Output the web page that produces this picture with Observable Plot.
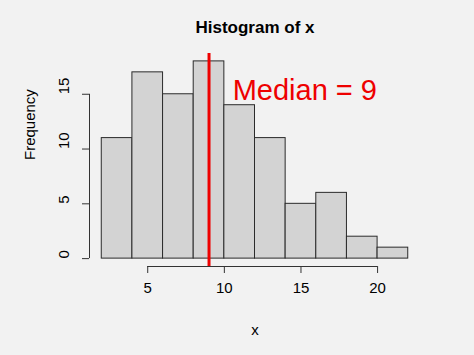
<!DOCTYPE html>
<html>
<head>
<meta charset="utf-8">
<script src="https://cdn.jsdelivr.net/npm/d3@7"></script>
<script src="https://cdn.jsdelivr.net/npm/@observablehq/plot@0.6"></script>
<style>
  html, body { margin: 0; padding: 0; background: #ffffff; }
  #chart svg { display: block; }
</style>
</head>
<body>
<div id="chart"></div>
<script>
const binStart = [2, 4, 6, 8, 10, 12, 14, 16, 18, 20];
const binEnd   = [4, 6, 8, 10, 12, 14, 16, 18, 20, 22];
const counts   = [11, 17, 15, 18, 14, 11, 5, 6, 2, 1];
const medianValue = 9;
const medianLabel = "Median = 9";
const medianLabelPos = [15.25, 15.3];
const xTicks = [5, 10, 15, 20];
const yTicks = [0, 5, 10, 15];
const titleText = "Histogram of x";
const xLabel = "x";
const yLabel = "Frequency";

const bins = binStart.map((s, i) => ({x1: s, x2: binEnd[i], count: counts[i]}));
// R-style 4% extension of the data range
const xMin = d3.min(binStart), xMax = d3.max(binEnd);
const yMax = d3.max(counts);
const xPad = (xMax - xMin) * 0.04, yPad = yMax * 0.04;
const xDomain = [xMin - xPad, xMax + xPad];
const yDomain = [-yPad, yMax + yPad];

const font = "'Liberation Sans', Arial, Helvetica, sans-serif";

const chart = Plot.plot({
  width: 474,
  height: 355,
  marginLeft: 89,
  marginRight: 54,
  marginTop: 53,
  marginBottom: 89,
  style: {background: "#f2f2f2", fontFamily: font, fontSize: "15px", color: "#000"},
  x: {domain: xDomain, axis: null},
  y: {domain: yDomain, axis: null},
  marks: [
    Plot.rectY(bins, {x1: "x1", x2: "x2", y1: 0, y2: "count", fill: "#d3d3d3", stroke: "#2b2b2b", strokeWidth: 1}),
    Plot.ruleX([medianValue], {stroke: "#ee0000", strokeWidth: 3}),
    // y axis
    Plot.ruleX([xDomain[0]], {y1: d3.min(yTicks), y2: d3.max(yTicks), stroke: "#333", strokeWidth: 1}),
    Plot.axisY({ticks: yTicks, tickSize: 7, tickFormat: () => "", stroke: "#333", label: null}),
    Plot.text(yTicks, {y: d => d, text: d => String(d), frameAnchor: "left", lineAnchor: "middle", dx: -25, rotate: -90, fontSize: 15, fill: "#000"}),
    // x axis
    Plot.ruleY([yDomain[0]], {x1: d3.min(xTicks), x2: d3.max(xTicks), stroke: "#333", strokeWidth: 1}),
    Plot.axisX({ticks: xTicks, tickSize: 7, tickPadding: 9, fontSize: 15, stroke: "#333", label: null}),
    // labels
    Plot.text([xLabel], {text: d => d, frameAnchor: "bottom", lineAnchor: "middle", dy: 64, fontSize: 15}),
    Plot.text([yLabel], {text: d => d, frameAnchor: "left", lineAnchor: "middle", dx: -59, rotate: -90, fontSize: 15}),
    Plot.text([titleText], {text: d => d, frameAnchor: "top", lineAnchor: "middle", dy: -26, fontSize: 17, fontWeight: "bold"}),
    Plot.text([medianLabel], {x: () => medianLabelPos[0], y: () => medianLabelPos[1], text: d => d, fontSize: 29, fill: "#ee0000"})
  ]
});
document.getElementById("chart").appendChild(chart);
</script>
</body>
</html>
